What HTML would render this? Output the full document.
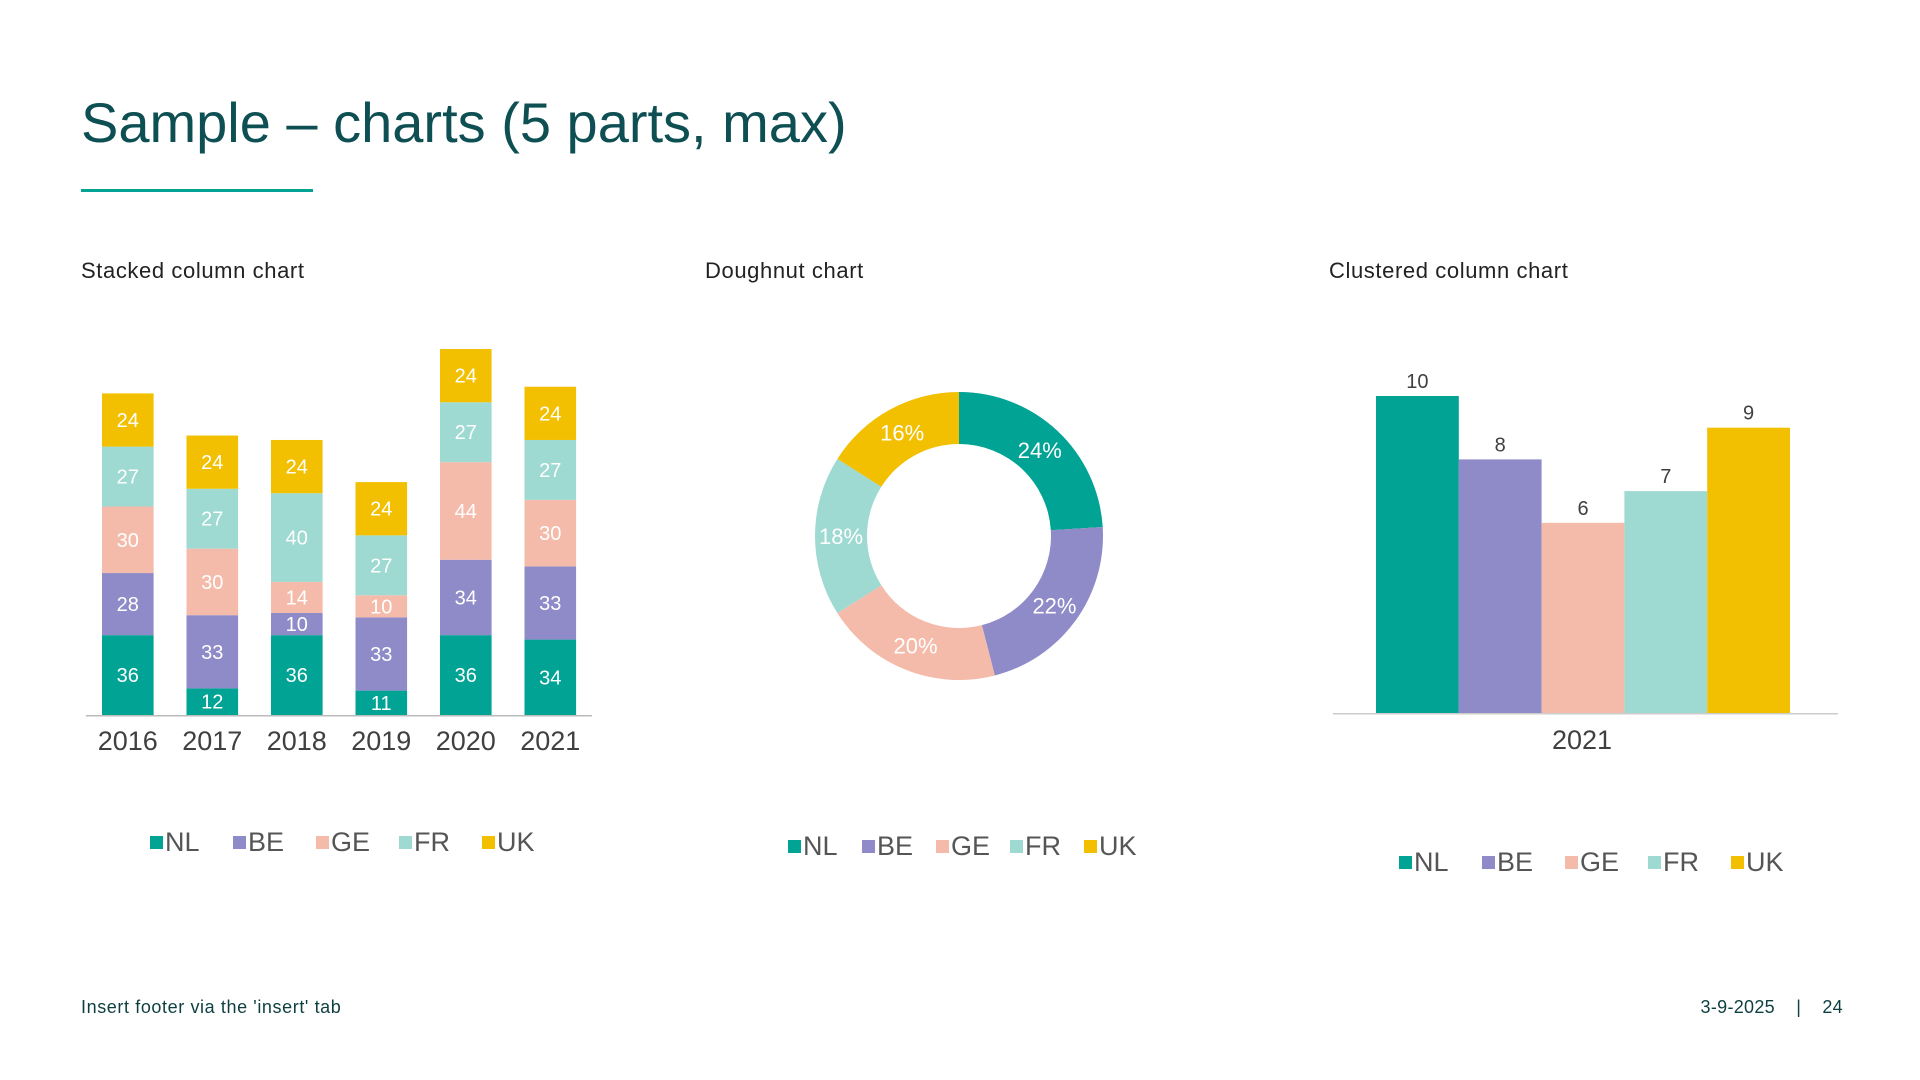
<!DOCTYPE html>
<html><head><meta charset="utf-8"><style>
html,body{margin:0;padding:0;background:#fff;width:1920px;height:1080px;overflow:hidden;font-family:"Liberation Sans",Arial,sans-serif}
svg{position:absolute;left:0;top:0}
</style></head><body>
<svg id="s" width="1920" height="1080">
<text x="81" y="142" font-size="56" fill="#0D4F52">Sample – charts (5 parts, max)</text>
<rect x="81" y="189" width="232" height="3" fill="#00A394"/>
<text x="81" y="278" font-size="22" letter-spacing="0.6" fill="#222">Stacked column chart</text>
<text x="705" y="278" font-size="22" letter-spacing="0.6" fill="#222">Doughnut chart</text>
<text x="1329" y="278" font-size="22" letter-spacing="0.6" fill="#222">Clustered column chart</text>
<text x="81" y="1013" font-size="18" letter-spacing="0.6" fill="#0D3F40">Insert footer via the 'insert' tab</text>
<text x="1843" y="1013" font-size="18" letter-spacing="0.3" fill="#0D3F40" text-anchor="end">3-9-2025 &#160;&#160;&#160;|&#160;&#160;&#160; 24</text>
<g id="g1"></g><g id="g2"></g><g id="g3"></g>
</svg>
<script>
const series = ['NL','BE','GE','FR','UK'];
const colors = ['#00A394','#8F8AC8','#F5BBAA','#9ED9D2','#F2C000'];
const years = ['2016','2017','2018','2019','2020','2021'];
const nl = [36,12,36,11,36,34];
const be = [28,33,10,33,34,33];
const ge = [30,30,14,10,44,30];
const fr = [27,27,40,27,27,27];
const uk = [24,24,24,24,24,24];
const donutValues = [24,22,20,18,16];
const clusterCategory = '2021';
const clusterValues = [10,8,6,7,9];

const NS='http://www.w3.org/2000/svg';
function mk(tag,attrs,parent,text){const e=document.createElementNS(NS,tag);for(const k in attrs)e.setAttribute(k,attrs[k]);if(text!==undefined)e.textContent=text;parent.appendChild(e);return e;}

// Stacked
const g1=document.getElementById('g1');
const base1=715, unit1=2.218, x0=102, pitch=84.5, bw=51.6;
const ys1=v=>v*unit1;
const stack=[nl,be,ge,fr,uk];
years.forEach((yr,i)=>{
  let acc=0;
  stack.forEach((arr,s)=>{
    const v=arr[i], h=ys1(v), y=base1-ys1(acc)-h;
    const r=mk('rect',{x:x0+i*pitch,y:y,width:bw,height:h,fill:colors[s]},g1);
    
    
    const t=mk('text',{x:x0+i*pitch+bw/2,y:y+h/2+7,'font-size':20,fill:'#fff','text-anchor':'middle'},g1,String(v));
    
    
    acc+=v;
  });
  const t=mk('text',{x:x0+i*pitch+bw/2,y:750,'font-size':27,fill:'#404040','text-anchor':'middle'},g1,yr);
  
  
});
const ax1=mk('rect',{x:86,y:715,width:506,height:1.5,fill:'#bbb'},g1);



function legend(g,x,y,gap){
  series.forEach((s,i)=>{
    const lx=x+i*gap;
    const r=mk('rect',{x:lx,y:y-15,width:13,height:13,fill:colors[i]},g);
    
    
    const t=mk('text',{x:lx+15,y:y,'font-size':27,fill:'#555'},g,s);
    
    
  });
}
legend(g1,150,851,83);

// Donut
const g2=document.getElementById('g2');
const cx=959, cy=536, R=144, r0=92;
const total=donutValues.reduce((a,b)=>a+b,0);
let a0=0;
donutValues.forEach((v,i)=>{
  const a1=a0+v/total*2*Math.PI;
  const p=(a,rr)=>[cx+rr*Math.sin(a),cy-rr*Math.cos(a)];
  const [x1,y1]=p(a0,R),[x2,y2]=p(a1,R),[x3,y3]=p(a1,r0),[x4,y4]=p(a0,r0);
  const large=(a1-a0)>Math.PI?1:0;
  const d=`M${x1},${y1}A${R},${R} 0 ${large} 1 ${x2},${y2}L${x3},${y3}A${r0},${r0} 0 ${large} 0 ${x4},${y4}Z`;
  const sl=mk('path',{d:d,fill:colors[i]},g2);
  
  
  const am=(a0+a1)/2, [lx,ly]=p(am,(R+r0)/2);
  const t=mk('text',{x:lx,y:ly+8,'font-size':22,fill:'#fff','text-anchor':'middle'},g2,v+'%');
  
  
  a0=a1;
});
legend(g2,788,855,74);

// Clustered
const g3=document.getElementById('g3');
const base3=713, unit3=31.7, cx0=1376, cbw=82.8;
clusterValues.forEach((v,i)=>{
  const h=v*unit3, x=cx0+i*cbw;
  const r=mk('rect',{x:x,y:base3-h,width:cbw,height:h,fill:colors[i]},g3);
  
  
  const t=mk('text',{x:x+cbw/2,y:base3-h-8,'font-size':20,fill:'#404040','text-anchor':'middle'},g3,String(v));
  
  
});
const ax3=mk('rect',{x:1333,y:713,width:505,height:1.5,fill:'#ccc'},g3);


const cl=mk('text',{x:1582,y:749,'font-size':27,fill:'#404040','text-anchor':'middle'},g3,clusterCategory);


legend(g3,1399,871,83);
</script>
</body></html>
